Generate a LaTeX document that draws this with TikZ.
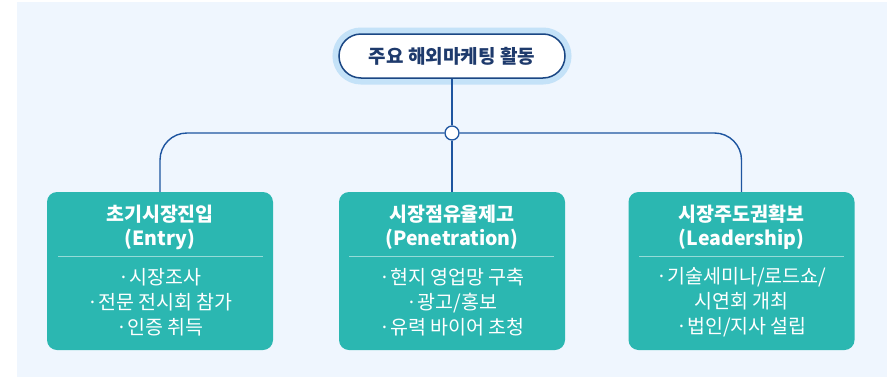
\documentclass[tikz,border=0pt]{standalone}
\usepackage{fontspec}
\setmainfont{Noto Sans CJK KR}
\usetikzlibrary{positioning}
\definecolor{bgcol}{HTML}{EFF6FE}
\definecolor{glowcol}{HTML}{C4E2F8}
\definecolor{navy}{HTML}{1B4784}
\definecolor{titletext}{HTML}{1E3A6C}
\definecolor{linecol}{HTML}{1E55A0}
\definecolor{teal}{HTML}{2BB7B1}
\definecolor{sepcol}{HTML}{95DBD7}
\tikzset{
  titlebox/.style={draw=navy, line width=1.5pt, fill=white, rounded corners=22pt,
    minimum width=226pt, minimum height=44pt, inner sep=0pt,
    preaction={draw=glowcol, line width=13pt},
    text=titletext, font=\fontsize{19}{22}\selectfont\bfseries},
  hubnode/.style={circle, draw=linecol, line width=1.3pt, fill=white, minimum size=14pt, inner sep=0pt},
  stagebox/.style={fill=teal, rounded corners=10pt, minimum width=226pt, minimum height=158pt, inner sep=0pt},
  stagetitle/.style={text=white, align=center, inner sep=0pt, font=\fontsize{19.5}{24}\selectfont\bfseries},
  stageitems/.style={text=white, align=center, inner sep=0pt, font=\fontsize{19.5}{25}\selectfont},
  conn/.style={draw=linecol, line width=1.4pt},
  sep/.style={draw=sepcol, line width=1pt}
}
\begin{document}
\begin{tikzpicture}[x=1pt,y=-1pt]
\useasboundingbox (0,0) rectangle (892,378);
\fill[bgcol] (17,2) rectangle (887,377);
\node[titlebox] (title) at (452,56) {주요 해외마케팅 활동};
\node[hubnode] (hub) at (452,133) {};
\node[stagebox] (b1) at (160,271) {};
\node[stagebox] (b2) at (452,271) {};
\node[stagebox] (b3) at (741.5,271) {};
\draw[conn] (title.south) -- (hub.north);
\draw[conn] (hub.south) -- (hub |- b2.north);
\draw[conn, rounded corners=27pt] (hub.west) -| (b1.north);
\draw[conn, rounded corners=27pt] (hub.east) -| (b3.north);
\node[stagetitle] (t1) at (160,227) {초기시장진입\\(Entry)};
\node[stagetitle] (t2) at (452,227) {시장점유율제고\\(Penetration)};
\node[stagetitle] (t3) at (741.5,227) {시장주도권확보\\(Leadership)};
\draw[sep] (58,256) -- (263,256);
\draw[sep] (349,256) -- (554,256);
\draw[sep] (639,256) -- (844,256);
\node[stageitems] (i1) at (160,302) {·시장조사\\·전문 전시회 참가\\·인증 취득};
\node[stageitems] (i2) at (452,302) {·현지 영업망 구축\\·광고/홍보\\·유력 바이어 초청};
\node[stageitems] (i3) at (741.5,302) {·기술세미나/로드쇼/\\시연회 개최\\·법인/지사 설립};
\end{tikzpicture}
\end{document}
